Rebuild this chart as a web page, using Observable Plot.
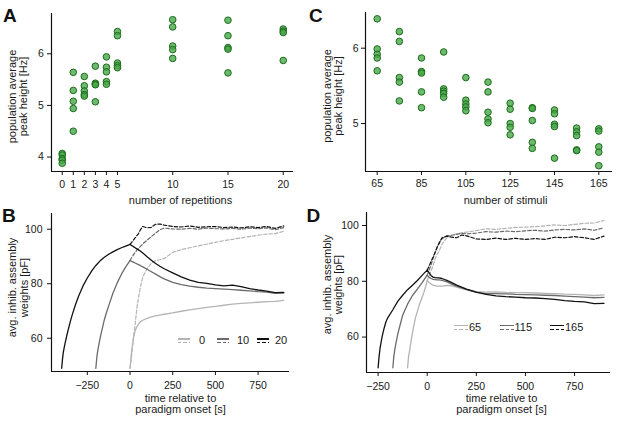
<!DOCTYPE html>
<html>
<head>
<meta charset="utf-8">
<script src="https://cdn.jsdelivr.net/npm/d3@7"></script>
<script src="https://cdn.jsdelivr.net/npm/@observablehq/plot@0.6"></script>
<style>
  body { margin: 0; background: #fff; font-family: "Liberation Sans", Arial, sans-serif; }
  #fig { position: relative; width: 617px; height: 428px; overflow: hidden; background: #fff; }
  .panel { position: absolute; }
  .letter { position: absolute; font-weight: bold; font-size: 19px; line-height: 19px; color: #111; }
  .legtxt { position: absolute; font-size: 11px; line-height: 11px; color: #1a1a1a; white-space: nowrap; }
  .legline { position: absolute; height: 1.3px; }
</style>
</head>
<body>
<div id="fig"></div>
<script>
// ---------- Panel A: peak height vs number of repetitions ----------
const repN    = [0,0,0,0,0, 1,1,1,1,1, 2,2,2,2,2, 3,3,3,3,3, 4,4,4,4,4, 5,5,5,5,5, 10,10,10,10,10, 15,15,15,15,15, 20,20,20,20];
const repPeak = [4.07,4.04,3.97,3.94,3.88, 5.64,5.29,5.08,4.94,4.50, 5.56,5.38,5.28,5.21,5.18, 5.76,5.43,5.41,5.40,5.07,
                 5.94,5.74,5.65,5.46,5.41, 6.43,6.35,5.82,5.77,5.73, 6.66,6.52,6.15,6.08,5.91, 6.65,6.35,6.12,6.09,5.63,
                 6.48,6.44,6.41,5.87];
const repTicks = [0,1,2,3,4,5,10,15,20];
const peakTicksA = [4,5,6];

// ---------- Panel C: peak height vs number of stimuli ----------
const stimN    = [65,65,65,65,65, 75,75,75,75,75, 85,85,85,85,85, 95,95,95,95,95, 105,105,105,105,105, 115,115,115,115,115,
                  125,125,125,125,125, 135,135,135,135,135, 145,145,145,145,145, 155,155,155,155,155, 165,165,165,165,165];
const stimPeak = [6.39,5.99,5.92,5.87,5.70, 6.22,6.09,5.61,5.55,5.30, 5.87,5.69,5.67,5.42,5.21, 5.95,5.46,5.43,5.40,5.35,
                  5.61,5.31,5.26,5.22,5.17, 5.55,5.42,5.15,5.06,5.01, 5.27,5.19,5.00,4.95,4.85, 5.21,5.20,5.04,4.75,4.67,
                  5.18,5.13,4.99,4.96,4.54, 4.94,4.89,4.84,4.65,4.64, 4.93,4.90,4.69,4.62,4.44];
const stimTicks = [65,85,105,125,145,165];
const peakTicksC = [5,6];

// ---------- time grids ----------
const tPost = [0,10,20,30,40,50,60,75,100,125,150,175,200,250,300,350,400,450,500,550,600,650,700,750,800,850,900];
const timeTicks = [-250,0,250,500,750];
const weightTicks = [60,80,100];

// ---------- Panel B: weights, repetitions 0 / 10 / 20 ----------
const repConds = ["0","10","20"];
const tPreB20 = [-400,-395,-390,-380,-370,-360,-350,-340,-320,-300,-275,-250,-225,-200,-175,-150,-125,-100,-75,-50,-25,0];
const wPreB20 = [49,52.5,55,58.2,61,63.5,66,68.2,72.2,75.6,79.2,82.1,84.6,86.7,88.4,89.7,90.8,91.7,92.5,93.2,93.8,94.4];
const tPreB10 = [-200,-195,-190,-180,-170,-160,-150,-140,-120,-100,-75,-50,-25,0];
const wPreB10 = [49,52.5,55,58.5,61.5,64.2,66.8,69,72.8,76.5,80.3,83.5,86.2,88.5];
const wSolidB0  = [49,55.5,60,62.8,64.2,65.2,66,66.6,67.3,67.8,68.2,68.5,68.8,69.3,69.9,70.4,70.9,71.3,71.7,72.1,72.5,72.8,73.0,73.2,73.4,73.5,73.9];
const wDashB0   = [49,54,60,65,71,75,78.5,82.5,85.5,87.5,88.5,88.8,89.2,91.5,92.5,93.2,93.9,94.5,95.2,95.8,96.3,96.8,97.3,97.8,98.2,98.4,99.2];
const wSolidB10 = [88.5,88.2,87.9,87.6,87.3,87.0,86.7,86.2,85.3,84.4,83.5,82.6,81.8,80.5,79.7,79.1,78.7,78.4,78.2,78.0,77.8,77.6,77.4,77.1,76.9,76.5,76.6];
const wDashB10  = [88.5,89.6,90.6,91.5,92.3,93.0,93.6,94.6,96.0,97.3,98.6,99.8,100.4,100.1,100.0,100.3,100.0,100.4,100.2,100.1,100.3,100.0,100.4,100.2,100.5,99.8,100.6];
const wSolidB20 = [94.4,94.0,93.6,93.2,92.8,92.4,92.0,91.3,89.9,88.6,87.4,86.4,85.5,84.0,82.5,81.3,80.5,80.1,79.6,79.2,79.5,78.9,78.2,77.7,77.3,76.7,76.8];
const wDashB20  = [94.4,95.2,96.0,96.8,97.6,98.4,99.7,101.0,100.5,100.7,101.8,101.9,101.5,101.0,100.8,101.2,100.7,100.9,101.0,100.6,100.8,100.5,100.9,100.6,101.0,100.3,101.2];

// ---------- Panel D: weights, stimuli 65 / 115 / 165 ----------
const stimConds = ["65","115","165"];
const tPreD165 = [-250,-245,-240,-230,-220,-210,-200,-175,-150,-125,-100,-75,-50,-25,0];
const wPreD165 = [49,53,56,60,63,65.5,67,69.8,72.8,75,77,78.6,80.3,82.2,84];
const tPreD115 = [-175,-170,-165,-160,-150,-140,-125,-100,-75,-50,-25,0];
const wPreD115 = [49,53,55.5,57.5,61,63.8,67.8,71.8,74.9,77.2,79.6,82.2];
const tPreD65  = [-100,-95,-90,-80,-70,-60,-50,-40,-30,-20,-10,0];
const wPreD65  = [49,53,55,59.5,63.5,66.8,69.2,71.6,73.5,75.4,77.5,80.3];
const wSolidD65  = [80.3,79.5,79.0,78.6,78.4,78.3,78.3,78.3,78.5,78.4,77.9,77.4,77.0,76.3,76.1,76.2,76.0,75.9,75.9,75.8,75.7,75.6,75.4,75.3,75.1,74.9,75.1];
const wDashD65   = [80.3,82.0,83.7,85.7,88.0,89.6,90.8,93.2,95.6,96.5,97.0,97.4,97.6,98.2,98.8,98.6,99.0,99.3,99.4,99.6,99.9,100.2,100.0,100.4,100.8,100.9,101.8];
const wSolidD115 = [82.2,81.4,81.0,80.7,80.6,80.5,80.5,80.3,79.8,79.0,78.3,77.6,77.0,76.0,75.6,75.6,75.5,75.3,75.2,75.1,75.0,74.9,74.7,74.5,74.3,74.1,74.2];
const wDashD115  = [82.2,84.0,86.0,88.3,90.3,92.2,93.8,95.2,96.3,96.5,96.8,97.2,97.0,97.3,97.8,97.6,98.0,97.8,98.1,98.3,98.0,98.4,98.6,98.4,98.8,98.3,99.2];
const wSolidD165 = [84.0,83.0,82.0,81.5,81.3,81.2,81.2,81.0,80.3,79.5,78.6,77.9,77.2,76.1,75.3,74.8,74.5,74.3,74.1,74.0,73.8,73.5,73.1,72.8,72.6,72.0,72.1];
const wDashD165  = [84.0,85.5,87.2,88.7,90.3,92.1,93.5,95.6,96.2,95.8,95.6,96.6,96.3,95.2,95.0,95.5,95.0,95.4,95.0,95.3,95.0,95.8,95.6,96.0,95.6,95.0,96.2];

const greys = ["#b4b4b4", "#6b6b6b", "#111111"];

// ---------- helpers ----------
const FONT = "'Liberation Sans', Arial, Helvetica, sans-serif";
const INK = "#1a1a1a";
const rows = (ts, ws, cond) => ts.map((t, i) => ({t, w: ws[i], cond}));
const fig = document.getElementById("fig");
function place(node, left, top) {
  const d = document.createElement("div");
  d.className = "panel";
  d.style.left = left + "px";
  d.style.top = top + "px";
  d.appendChild(node);
  fig.appendChild(d);
}
function letter(txt, left, top) {
  const d = document.createElement("div");
  d.className = "letter";
  d.textContent = txt;
  d.style.left = left + "px";
  d.style.top = top + "px";
  fig.appendChild(d);
}
function legendItem(label, color, left, solidTop, dashTop, len, textLeft, textTop) {
  const s = document.createElement("div");
  s.className = "legline";
  s.style.cssText += `left:${left}px;top:${solidTop}px;width:${len}px;background:${color};`;
  fig.appendChild(s);
  const d = document.createElement("div");
  d.className = "legline";
  d.style.cssText += `left:${left}px;top:${dashTop}px;width:${len}px;background:repeating-linear-gradient(to right, ${color} 0 3.5px, transparent 3.5px 5.5px);`;
  fig.appendChild(d);
  const t = document.createElement("div");
  t.className = "legtxt";
  t.textContent = label;
  t.style.left = textLeft + "px";
  t.style.top = textTop + "px";
  fig.appendChild(t);
}
const baseStyle = {fontFamily: FONT, fontSize: "10.5px", color: INK, background: "transparent", overflow: "visible"};
const yTitle = (txt, dx, dy) => Plot.text([txt], {text: d => d, frameAnchor: "left", textAnchor: "middle", lineAnchor: "middle", rotate: -90, dx, dy, fontSize: 11, lineHeight: 1.05, fill: INK});
const xTitle = (txt, dx, dy) => Plot.text([txt], {text: d => d, frameAnchor: "bottom", textAnchor: "middle", lineAnchor: "middle", dx, dy, fontSize: 11, lineHeight: 0.98, fill: INK});

// ---------- Panel A ----------
const aX = [-0.97, 20.93], aY = [3.72, 6.78];
const repRows = repN.map((n, i) => ({n, peak: repPeak[i]}));
const plotA = Plot.plot({
  width: 308, height: 210, marginTop: 13, marginRight: 15, marginBottom: 39, marginLeft: 51,
  style: baseStyle,
  x: {domain: aX}, y: {domain: aY},
  marks: [
    Plot.ruleX([aX[0]], {stroke: "#111", strokeWidth: 1.2}),
    Plot.ruleY([aY[0]], {stroke: "#111", strokeWidth: 1.2}),
    Plot.axisX({ticks: repTicks, tickFormat: "d", tickSize: 4, tickPadding: 4.8, label: null, stroke: "#111"}),
    Plot.axisY({ticks: peakTicksA, tickFormat: "d", tickSize: 4, tickPadding: 3.7, label: null, stroke: "#111"}),
    Plot.dot(repRows, {x: "n", y: "peak", r: 3.3, fill: "#49a849", fillOpacity: 0.8, stroke: "#1b6d1b", strokeWidth: 1}),
    yTitle("population average\npeak height [Hz]", -33.5, 4),
    xTitle("number of repetitions", 8, 29)
  ]
});
place(plotA, 0, 0);

// ---------- Panel C ----------
const cX = [59.72, 171.18], cY = [4.363, 6.474];
const stimRows = stimN.map((n, i) => ({n, peak: stimPeak[i]}));
const plotC = Plot.plot({
  width: 312, height: 210, marginTop: 12, marginRight: 5, marginBottom: 39, marginLeft: 60,
  style: baseStyle,
  x: {domain: cX}, y: {domain: cY},
  marks: [
    Plot.ruleX([cX[0]], {stroke: "#111", strokeWidth: 1.2}),
    Plot.ruleY([cY[0]], {stroke: "#111", strokeWidth: 1.2}),
    Plot.axisX({ticks: stimTicks, tickFormat: "d", tickSize: 4, tickPadding: 4.5, label: null, stroke: "#111"}),
    Plot.axisY({ticks: peakTicksC, tickFormat: "d", tickSize: 4, tickPadding: 3, label: null, stroke: "#111"}),
    Plot.dot(stimRows, {x: "n", y: "peak", r: 3.3, fill: "#49a849", fillOpacity: 0.8, stroke: "#1b6d1b", strokeWidth: 1}),
    yTitle("population average\npeak height [Hz]", -32.8, 4),
    xTitle("number of stimuli", 16.5, 29)
  ]
});
place(plotC, 305, 0);

// ---------- Panel B ----------
const bX = [-459.6, 933.8], bY = [47.8, 105.76];
const bSolid = [
  ...rows(tPost, wSolidB0, "0"),
  ...rows(tPreB10, wPreB10, "10"), ...rows(tPost, wSolidB10, "10"),
  ...rows(tPreB20, wPreB20, "20"), ...rows(tPost, wSolidB20, "20")
];
const bDash = [
  ...rows(tPost, wDashB0, "0"),
  ...rows(tPost, wDashB10, "10"),
  ...rows(tPost, wDashB20, "20")
];
const plotB = Plot.plot({
  width: 308, height: 223, marginTop: 8, marginRight: 19, marginBottom: 57, marginLeft: 51,
  style: baseStyle,
  x: {domain: bX}, y: {domain: bY},
  color: {domain: repConds, range: greys},
  marks: [
    Plot.ruleX([bX[0]], {stroke: "#111", strokeWidth: 1.2}),
    Plot.ruleY([bY[0]], {stroke: "#111", strokeWidth: 1.2}),
    Plot.axisX({ticks: timeTicks, tickFormat: "d", tickSize: 4, tickPadding: 6, label: null, stroke: "#111"}),
    Plot.axisY({ticks: weightTicks, tickFormat: "d", tickSize: 4, tickPadding: 5, label: null, stroke: "#111"}),
    Plot.line(bDash, {x: "t", y: "w", z: "cond", stroke: "cond", strokeWidth: 1.2, strokeDasharray: "3.5,2"}),
    Plot.line(bSolid, {x: "t", y: "w", z: "cond", stroke: "cond", strokeWidth: 1.3}),
    yTitle("avg. inhib. assembly\nweights [pF]", -33, -5),
    xTitle("time relative to\nparadigm onset [s]", 10, 32.5)
  ]
});
place(plotB, 0, 205);

// ---------- Panel D ----------
const dX = [-309, 933], dY = [47.3, 104.66];
const dSolid = [
  ...rows(tPreD65, wPreD65, "65"), ...rows(tPost, wSolidD65, "65"),
  ...rows(tPreD115, wPreD115, "115"), ...rows(tPost, wSolidD115, "115"),
  ...rows(tPreD165, wPreD165, "165"), ...rows(tPost, wSolidD165, "165")
];
const dDash = [
  ...rows(tPost, wDashD65, "65"),
  ...rows(tPost, wDashD115, "115"),
  ...rows(tPost, wDashD165, "165")
];
const plotD = Plot.plot({
  width: 312, height: 223, marginTop: 7, marginRight: 7, marginBottom: 56, marginLeft: 61,
  style: baseStyle,
  x: {domain: dX}, y: {domain: dY},
  color: {domain: stimConds, range: greys},
  marks: [
    Plot.ruleX([dX[0]], {stroke: "#111", strokeWidth: 1.2}),
    Plot.ruleY([dY[0]], {stroke: "#111", strokeWidth: 1.2}),
    Plot.axisX({ticks: timeTicks, tickFormat: "d", tickSize: 4, tickPadding: 6.5, label: null, stroke: "#111"}),
    Plot.axisY({ticks: weightTicks, tickFormat: "d", tickSize: 4, tickPadding: 3.7, label: null, stroke: "#111"}),
    Plot.line(dDash, {x: "t", y: "w", z: "cond", stroke: "cond", strokeWidth: 1.2, strokeDasharray: "3.5,2"}),
    Plot.line(dSolid, {x: "t", y: "w", z: "cond", stroke: "cond", strokeWidth: 1.3}),
    yTitle("avg. inhib. assembly\nweights [pF]", -33.5, -8),
    xTitle("time relative to\nparadigm onset [s]", 13, 31.5)
  ]
});
place(plotD, 305, 205);

// ---------- panel letters ----------
letter("A", 3, 5.8);
letter("B", 2, 205.5);
letter("C", 309, 5.8);
letter("D", 306.5, 205.5);

// ---------- legends ----------
legendItem(repConds[0], greys[0], 178.3, 338.3, 342, 12, 199, 335.1);
legendItem(repConds[1], greys[1], 216.7, 338.3, 342, 12, 237, 335.1);
legendItem(repConds[2], greys[2], 256.7, 338.3, 342, 12, 275, 335.1);
legendItem(stimConds[0], greys[0], 454.3, 324.5, 328.5, 14, 469, 322.3);
legendItem(stimConds[1], greys[1], 500, 324.5, 328.5, 14, 514.5, 322.3);
legendItem(stimConds[2], greys[2], 550, 324.5, 328.5, 14, 565, 322.3);
</script>
</body>
</html>
